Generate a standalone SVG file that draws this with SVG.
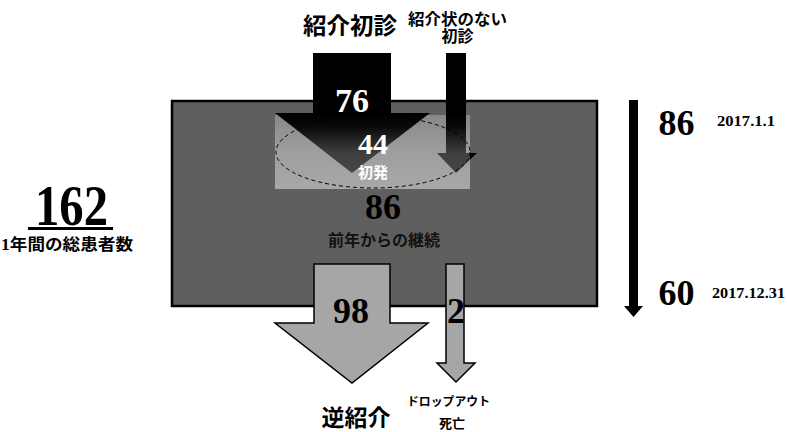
<svg xmlns="http://www.w3.org/2000/svg" width="787" height="432" viewBox="0 0 787 432">
<style>
.num{font-family:"Liberation Serif","Noto Sans CJK JP",serif;font-weight:bold;text-anchor:middle}
.jp{font-family:"Liberation Serif","Noto Sans CJK JP",serif;font-weight:bold;text-anchor:middle}
.gray{fill:#a6a6a6;stroke:#000;stroke-width:1.5}
</style>
<defs>
<linearGradient id="ovl" gradientUnits="userSpaceOnUse" x1="0" y1="115" x2="0" y2="189">
<stop offset="0" stop-color="#888"/>
<stop offset="0.5" stop-color="#9e9e9e"/>
<stop offset="1" stop-color="#a8a8a8"/>
</linearGradient>
<linearGradient id="dk" gradientUnits="userSpaceOnUse" x1="0" y1="115" x2="0" y2="175">
<stop offset="0" stop-color="#000"/>
<stop offset="0.2" stop-color="#0a0a0a"/>
<stop offset="0.65" stop-color="#404040"/>
<stop offset="1" stop-color="#474747"/>
</linearGradient>
<clipPath id="oc"><rect x="275" y="115" width="195" height="74"/></clipPath>
</defs>
<rect width="787" height="432" fill="#fff"/>

<g id="main-box">
<rect x="172" y="101" width="425" height="205" fill="#5f5f5f" stroke="#000" stroke-width="2.5"/>
<text class="num" x="383" y="219" font-size="36" fill="#000">86</text>
<text class="jp" x="384" y="246" font-size="16" fill="#111">前年からの継続</text>
</g>

<g id="connectors">
<g id="referral-arrow">
<polygon points="313,53 391,53 391,113 430,113 352,173 275,113 313,113" fill="#000"/>
</g>
<g id="no-letter-arrow">
<polygon points="446,53 466,53 466,153 477,153 456,173 437,153 446,153" fill="#000"/>
</g>
<g id="new-overlay">
<rect x="275" y="115" width="195" height="74" fill="url(#ovl)"/>
<g clip-path="url(#oc)">
<polygon points="313,53 391,53 391,113 430,113 352,173 275,113 313,113" fill="url(#dk)"/>
<polygon points="446,53 466,53 466,153 477,153 456,173 437,153 446,153" fill="url(#dk)"/>
</g>
<ellipse cx="373" cy="152" rx="97" ry="36" fill="none" stroke="#000" stroke-width="1" stroke-dasharray="4 3"/>
</g>
<g id="reverse-arrow">
<polygon class="gray" points="314,264 390,264 390,323 428,323 352,383 275,323 314,323"/>
</g>
<g id="dropout-arrow">
<polygon class="gray" points="446,264 464,264 464,363 475,363 456,382 437,363 446,363"/>
</g>
<g id="timeline-arrow">
<polygon points="629,100 638,100 638,306 643,306 633.5,317 624,306 629,306" fill="#000"/>
</g>
</g>

<g id="referral-label">
<text class="jp" x="350" y="34" font-size="23" textLength="94" lengthAdjust="spacingAndGlyphs">紹介初診</text>
<text class="num" x="352" y="112" font-size="34" fill="#fff">76</text>
</g>
<g id="no-letter-label">
<text class="jp" x="457.5" y="25" font-size="16" textLength="99" lengthAdjust="spacingAndGlyphs">紹介状のない</text>
<text class="jp" x="457.5" y="42" font-size="16">初診</text>
</g>
<g id="new-label">
<text class="num" x="373" y="154" font-size="30" fill="#fff">44</text>
<text class="jp" x="373" y="178" font-size="15" fill="#fff">初発</text>
</g>
<g id="reverse-label">
<text class="num" x="351" y="323" font-size="36">98</text>
<text class="jp" x="356" y="426" font-size="23">逆紹介</text>
</g>
<g id="dropout-label">
<text class="num" x="456" y="323" font-size="36">2</text>
<text class="jp" x="448.5" y="406" font-size="12" textLength="83" lengthAdjust="spacingAndGlyphs">ドロップアウト</text>
<text class="jp" x="452" y="428" font-size="13">死亡</text>
</g>
<g id="timeline-labels">
<text class="num" x="676.5" y="135" font-size="36">86</text>
<text class="num" x="746" y="126" font-size="14" textLength="58" lengthAdjust="spacingAndGlyphs">2017.1.1</text>
<text class="num" x="676.5" y="305" font-size="36">60</text>
<text class="num" x="748.5" y="298" font-size="14" textLength="73" lengthAdjust="spacingAndGlyphs">2017.12.31</text>
</g>
<g id="total">
<text class="num" x="71.5" y="225" font-size="56" textLength="73" lengthAdjust="spacingAndGlyphs">162</text>
<rect x="28" y="227" width="85" height="3" fill="#000"/>
<text class="jp" x="67" y="250" font-size="16" textLength="132" lengthAdjust="spacingAndGlyphs">1年間の総患者数</text>
</g>
</svg>
